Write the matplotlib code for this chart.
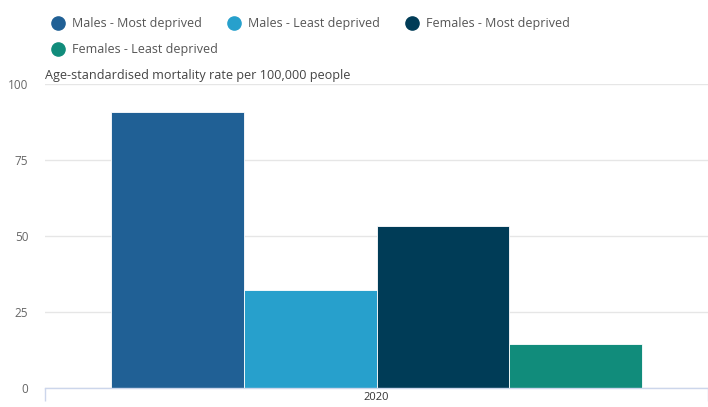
import matplotlib
matplotlib.use("Agg")
import matplotlib.pyplot as plt
from matplotlib.lines import Line2D

plt.rcParams['font.family'] = ['Open Sans', 'DejaVu Sans']

# data
year = "2020"
series = ["Males - Most deprived", "Males - Least deprived",
          "Females - Most deprived", "Females - Least deprived"]
values = [90.8, 32.3, 53.3, 14.5]
colors = ["#206095", "#27a0cc", "#003c57", "#118c7b"]
yticks = [0, 25, 50, 75, 100]

fig = plt.figure(figsize=(7.08, 4.07), dpi=100)
ax = fig.add_axes([45/708, 19/407, 1 - 45/708, 304/407])

w = 0.8 / len(series)
for i, (name, v, c) in enumerate(zip(series, values, colors)):
    x = (i - (len(series) - 1) / 2) * w
    ax.bar(x, v, width=w, color=c, edgecolor="white", linewidth=0.6, zorder=3)

ax.set_xlim(-0.5, 0.5)
ax.set_ylim(0, 100)
ax.set_yticks(yticks)
ax.set_xticks([0])
ax.set_xticklabels([year])
ax.set_xticks([-0.5, 0.5], minor=True)
ax.tick_params(axis="x", which="major", length=0, pad=3, labelsize=8, labelcolor="#333333")
ax.tick_params(axis="x", which="minor", length=9, color="#ccd6eb", width=1)
ax.tick_params(axis="y", length=0, pad=12, labelsize=8.5, labelcolor="#666666")
ax.grid(axis="y", color="#e6e6e6", linewidth=1, zorder=0)
for s in ["top", "right", "left"]:
    ax.spines[s].set_visible(False)
ax.spines["bottom"].set_color("#ccd6eb")
ax.spines["bottom"].set_linewidth(1)
ax.spines["bottom"].set_zorder(4)

fig.text(45/708, 1 - 76/407, "Age-standardised mortality rate per 100,000 people",
         fontsize=9.1, color="#444444", va="center", ha="left")

# legend, laid out like the original (3 per row)
leg_x = [58, 234, 412]
leg_y = [23, 49]
for i, (name, c) in enumerate(zip(series, colors)):
    px = leg_x[i % 3]
    py = leg_y[i // 3]
    fig.add_artist(Line2D([px/708], [1 - py/407], marker="o", markersize=9.5,
                          color=c, linestyle="none", transform=fig.transFigure))
    fig.text((px + 14)/708, 1 - py/407, name, fontsize=9, color="#555555",
             va="center", ha="left")

fig.savefig("out.png", dpi=100)
